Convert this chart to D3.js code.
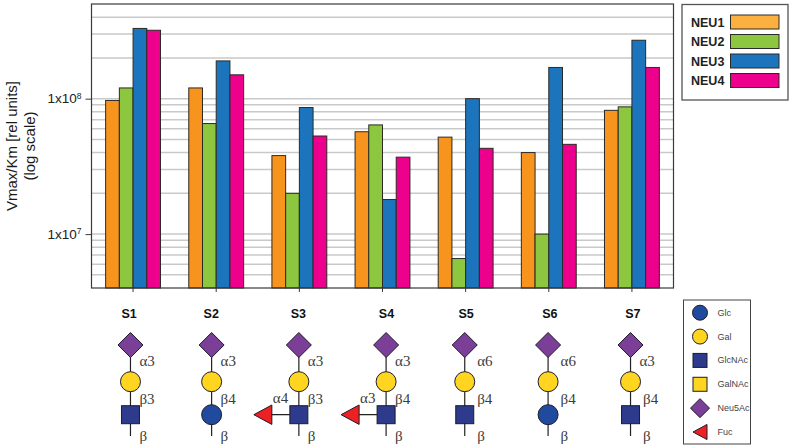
<!DOCTYPE html>
<html><head><meta charset="utf-8">
<script src="https://cdn.jsdelivr.net/npm/d3@7/dist/d3.min.js"></script>
<style>html,body{margin:0;background:#fff}svg{display:block}text{font-family:"Liberation Sans",Arial,sans-serif}</style>
</head><body><svg id="c" width="792" height="448"></svg>
<script>
const samples = ["S1","S2","S3","S4","S5","S6","S7"];
const enzymes = ["NEU1","NEU2","NEU3","NEU4"];
const neu1 = [9.7e7,1.2e8,3.8e7,5.7e7,5.2e7,4.0e7,8.2e7];
const neu2 = [1.2e8,6.55e7,2.0e7,6.4e7,6.6e6,1.0e7,8.7e7];
const neu3 = [3.3e8,1.9e8,8.6e7,1.8e7,1.0e8,1.7e8,2.7e8];
const neu4 = [3.2e8,1.5e8,5.3e7,3.7e7,4.3e7,4.6e7,1.7e8];
const tickValues = [1e7,1e8];
const tickExponents = ["7","8"];
const barColors = ["#f7941d","#8dc63f","#1c75bc","#ec008c"];
const legendColors = ["#fbb040","#8dc63f","#1c75bc","#ec008c"];
const reducing = ["GlcNAc","Glc","GlcNAc","GlcNAc","GlcNAc","Glc","GlcNAc"];
const sialylLink = ["α3","α3","α3","α3","α6","α6","α3"];
const galLink = ["β3","β4","β3","β4","β4","β4","β4"];
const fucLink = [null,null,"α4","α3",null,null,null];
const keyNames = ["Glc","Gal","GlcNAc","GalNAc","Neu5Ac","Fuc"];
const monoColors = {Glc:"#1f4a9e",Gal:"#ffd51f",GlcNAc:"#2e3a8c",GalNAc:"#ffd51f",Neu5Ac:"#7c3f98",Fuc:"#ed2024"};
const series = [neu1,neu2,neu3,neu4];

const svg = d3.select("#c");
const L=91.5,R=673.5,T=4,B=288;
const x = d3.scaleBand().domain(samples).range([L,R]).paddingInner(0.34).paddingOuter(0.17);
const xi = d3.scaleBand().domain(enzymes).range([0,x.bandwidth()]);
const y = d3.scaleLog().domain([4e6,5e8]).range([B,T]);

// gridlines
svg.append("g").selectAll("line").data(y.ticks().filter(v=>v>4e6&&v<5e8)).join("line")
  .attr("x1",L).attr("x2",R).attr("y1",d=>y(d)).attr("y2",d=>y(d))
  .attr("stroke","#c9c9c9").attr("stroke-width",1.5);

// bars
const gS = svg.append("g").selectAll("g").data(enzymes).join("g");
gS.each(function(e,i){
  d3.select(this).selectAll("rect").data(series[i]).join("rect")
    .attr("x",(d,j)=>x(samples[j])+xi(e)).attr("width",xi.bandwidth())
    .attr("y",d=>y(d)).attr("height",d=>B-y(d))
    .attr("fill",barColors[i]).attr("stroke","#2c2a26").attr("stroke-width",1);
});

// frame
svg.append("rect").attr("x",L).attr("y",T).attr("width",R-L).attr("height",B-T)
  .attr("fill","none").attr("stroke","#3a3a3a").attr("stroke-width",1.2);

// axes
const xAxis = d3.axisBottom(x).tickSize(4).tickFormat("");
const gx = svg.append("g").attr("transform",`translate(0,${B})`).call(xAxis);
gx.select(".domain").remove();
gx.selectAll("line").attr("stroke","#3a3a3a").attr("stroke-width",1);
const yAxis = d3.axisLeft(y).tickValues(tickValues).tickSize(6).tickFormat("");
const gy = svg.append("g").attr("transform",`translate(${L},0)`).call(yAxis);
gy.select(".domain").remove();
gy.selectAll("line").attr("stroke","#3a3a3a").attr("stroke-width",1);
tickValues.forEach((v,i)=>{
  const t = svg.append("text").attr("x",81.5).attr("y",y(v)+4.5).attr("text-anchor","end")
    .attr("font-size",13.5).attr("fill","#222");
  t.append("tspan").text("1x10");
  t.append("tspan").attr("dy",-4.5).attr("font-size",8.5).text(tickExponents[i]);
});

// y title
const yt = svg.append("g").attr("transform","translate(16.5,146) rotate(-90)").attr("fill","#1a1a1a");
yt.append("text").attr("x",0).attr("y",0).attr("text-anchor","middle").attr("font-size",15.5)
  .attr("textLength",130).attr("lengthAdjust","spacingAndGlyphs").text("Vmax/Km [rel units]");
yt.append("text").attr("x",0).attr("y",18).attr("text-anchor","middle").attr("font-size",15.5)
  .attr("textLength",69).attr("lengthAdjust","spacingAndGlyphs").text("(log scale)");

// enzyme legend
svg.append("rect").attr("x",682).attr("y",4.5).attr("width",106).attr("height",95.5)
  .attr("fill","#fff").attr("stroke","#555").attr("stroke-width",1.3);
const ly = d3.scalePoint().domain(enzymes).range([22,80.5]);
enzymes.forEach((e,i)=>{
  svg.append("text").attr("x",691).attr("y",ly(e)+4.5).attr("font-size",12.5).attr("font-weight","bold").attr("fill","#222").text(e);
  svg.append("rect").attr("x",730.5).attr("y",ly(e)-7).attr("width",48.5).attr("height",14)
    .attr("fill",legendColors[i]).attr("stroke","#2c2a26").attr("stroke-width",1);
});

// monosaccharide symbols
function mono(g,name,cx,cy,s){
  const fill=monoColors[name], st={fill,stroke:"#1c1c2c","stroke-width":1};
  let el;
  if(name==="Glc"||name==="Gal") el=g.append("circle").attr("cx",cx).attr("cy",cy).attr("r",s);
  else if(name==="GlcNAc"||name==="GalNAc") el=g.append("rect").attr("x",cx-s).attr("y",cy-s).attr("width",2*s).attr("height",2*s);
  else if(name==="Neu5Ac") el=g.append("polygon").attr("points",[[cx,cy-s],[cx+s,cy],[cx,cy+s],[cx-s,cy]].join(" "));
  else el=g.append("polygon").attr("points",[[cx-s,cy],[cx+s,cy-s*1.08],[cx+s,cy+s*1.08]].join(" "));
  Object.entries(st).forEach(([k,v])=>el.attr(k,v));
}
function link(g,t,px,py){
  g.append("text").attr("x",px).attr("y",py).attr("font-size",15).attr("fill","#3c3c3c")
   .style("font-family","'Liberation Serif',serif").text(t);
}

// glycan chains, horizontally nudged from the bar groups
const titleShift = d3.scaleOrdinal(samples,[-4,-5,-1,4,0.5,1,1]);
const chainShift = d3.scaleOrdinal(samples,[-2.6,-4.6,-0.5,3.6,-0.9,-0.7,-1.4]);
const ySia=345,yGal=381.7,yRed=414.7,yEnd=436;
samples.forEach((s,i)=>{
  const tick = x(s)+x.bandwidth()/2;
  const cx = tick+chainShift(s);
  svg.append("text").attr("x",tick+titleShift(s)).attr("y",318).attr("text-anchor","middle")
    .attr("font-size",12.5).attr("font-weight","bold").attr("fill","#111").text(s);
  const g = svg.append("g");
  g.append("line").attr("x1",cx).attr("x2",cx).attr("y1",ySia).attr("y2",yEnd).attr("stroke","#222").attr("stroke-width",1.2);
  if(fucLink[i]) g.append("line").attr("x1",cx-35).attr("x2",cx).attr("y1",yRed).attr("y2",yRed).attr("stroke","#222").attr("stroke-width",1.2);
  mono(g,"Neu5Ac",cx,ySia,12.5);
  mono(g,"Gal",cx,yGal,10);
  mono(g,reducing[i],cx,yRed,reducing[i]==="Glc"?10:9);
  if(fucLink[i]) mono(g,"Fuc",cx-36,yRed,9);
  const off = i>=4 && i<6 ? 12.5 : 9;
  link(g,sialylLink[i],cx+off,366);
  link(g,galLink[i],cx+(i>=4?12.5:9),403.5);
  link(g,"β",cx+(i>=4?12.5:9),441);
  if(fucLink[i]) link(g,fucLink[i],cx-26,403);
});

// key
svg.append("rect").attr("x",683.5).attr("y",300).attr("width",67).attr("height",144)
  .attr("fill","#fff").attr("stroke","#444").attr("stroke-width",1);
const ky = d3.scalePoint().domain(keyNames).range([312.7,432]);
const keySize={Glc:7.5,Gal:7.5,GlcNAc:7,GalNAc:7,Neu5Ac:9.5,Fuc:7};
keyNames.forEach(n=>{
  mono(svg,n,700,ky(n),keySize[n]);
  svg.append("text").attr("x",717.5).attr("y",ky(n)+3).attr("font-size",9).attr("fill","#444").text(n);
});
</script></body></html>
